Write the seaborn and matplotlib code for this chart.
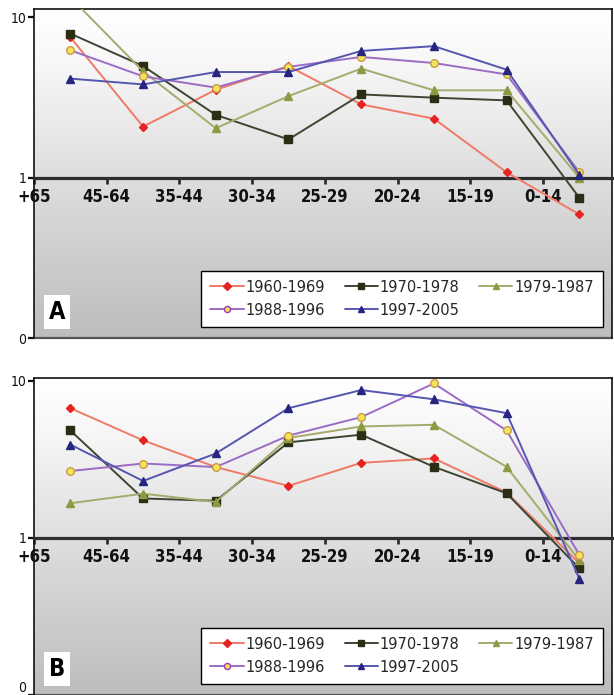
import numpy as np
import pandas as pd
import matplotlib
matplotlib.use("Agg")
import matplotlib.pyplot as plt
import seaborn as sns
from matplotlib.colors import LinearSegmentedColormap
from matplotlib.ticker import NullLocator

# ---------------- data ----------------
age_groups = ["+65", "45-64", "35-44", "30-34", "25-29", "20-24", "15-19", "0-14"]
periods = ["1960-1969", "1970-1978", "1979-1987", "1988-1996", "1997-2005"]

a_1960 = [7.5, 2.08, 3.53, 4.96, 2.86, 2.33, 1.08, 0.59]
a_1970 = [7.9, 4.96, 2.46, 1.73, 3.30, 3.15, 3.03, 0.75]
a_1979 = [13.3, 4.6, 2.03, 3.22, 4.78, 3.50, 3.50, 1.0]
a_1988 = [6.22, 4.28, 3.64, 4.9, 5.65, 5.18, 4.40, 1.08]
a_1997 = [4.14, 3.81, 4.55, 4.55, 6.16, 6.6, 4.71, 1.04]

b_1960 = [6.68, 4.17, 2.82, 2.14, 3.0, 3.2, 1.94, 0.69]
b_1970 = [4.82, 1.78, 1.72, 4.05, 4.53, 2.83, 1.92, 0.64]
b_1979 = [1.66, 1.91, 1.69, 4.32, 5.11, 5.24, 2.83, 0.72]
b_1988 = [2.66, 2.97, 2.82, 4.47, 5.86, 9.6, 4.82, 0.78]
b_1997 = [3.92, 2.30, 3.44, 6.68, 8.71, 7.61, 6.21, 0.55]

y_ticks = [0.1, 1, 10]
y_tick_labels = ["0", "1", "10"]

# ---------------- styles ----------------
line_colors = ["#f07a66", "#3c4632", "#a6aa6c", "#9b6cc6", "#5656b0"]
marker_faces = ["#e42420", "#2b2e14", "#8d9a42", "#f3e45a", "#262680"]
marker_edges = ["#e42420", "#2b2e14", "#8d9a42", "#c99a4a", "#262680"]
legend_edges = ["#e42420", "#2b2e14", "#8d9a42", "#9b3cb0", "#262680"]
marker_shapes = ["D", "s", "^", "o", "^"]
marker_sizes = [4.5, 5.5, 6, 5.5, 6]

sns.set_theme(style="white")
FAM = ["DejaVu Sans"]
plt.rcParams["font.family"] = FAM
plt.rcParams["font.stretch"] = "condensed"
STRETCH = "condensed"


def make_df(series):
    rows = []
    for p, vals in zip(periods, series):
        for i, (g, v) in enumerate(zip(age_groups, vals)):
            rows.append({"period": p, "age": g, "pos": i, "value": v})
    return pd.DataFrame(rows)


df_a = make_df([a_1960, a_1970, a_1979, a_1988, a_1997])
df_b = make_df([b_1960, b_1970, b_1979, b_1988, b_1997])

bg_cmap = LinearSegmentedColormap.from_list(
    "bg", [(0.0, "#bdbdbd"), (0.5, "#dfdfdf"), (0.85, "#f8f8f8"), (1.0, "#ffffff")]
)

fig = plt.figure(figsize=(6.14, 6.95), dpi=100)
W, H = 614.0, 695.0
ax_a = fig.add_axes([34 / W, 357 / H, 578 / W, 328.7 / H])
ax_b = fig.add_axes([34 / W, 0.0, 578 / W, 316.7 / H])


def draw_panel(ax, df, letter, ytop, ax_h_px):
    ax.set_yscale("log")
    grad = np.linspace(0, 1, 256).reshape(-1, 1)
    ax.imshow(grad, extent=[0, 1, 0, 1], transform=ax.transAxes, origin="lower",
              aspect="auto", cmap=bg_cmap, zorder=0, interpolation="bilinear")
    for i, p in enumerate(periods):
        sub = df[df["period"] == p]
        sns.lineplot(data=sub, x="pos", y="value", ax=ax, color=line_colors[i],
                     marker=marker_shapes[i], markersize=marker_sizes[i],
                     markerfacecolor=marker_faces[i], markeredgecolor=marker_edges[i],
                     markeredgewidth=1.0, linewidth=1.4, sort=False,
                     label=p, zorder=3 + i, legend=False)
    n = len(age_groups)
    ax.set_xlim(-0.5, n - 0.55)
    ax.set_ylim(0.1, ytop)
    ax.set_xlabel("")
    ax.set_ylabel("")
    ax.spines["bottom"].set_position(("data", 1))
    ax.spines["bottom"].set_linewidth(2.3)
    ax.spines["bottom"].set_color("#2e2e2e")
    ax.spines["bottom"].set_zorder(2.5)
    for s in ["top", "right", "left"]:
        ax.spines[s].set_visible(True)
        ax.spines[s].set_color("#111111")
        ax.spines[s].set_linewidth(1.2)
    ax.plot([0, 1], [0, 0], transform=ax.transAxes, color="#555555", lw=1.6,
            clip_on=False, zorder=2)
    ax.set_xticks(np.arange(n) - 0.5)
    ax.set_xticklabels(age_groups, fontweight="bold", fontsize=12, family=FAM,
                       fontstretch=STRETCH)
    ax.tick_params(axis="x", direction="out", length=4, width=2, pad=3.5,
                   color="#2e2e2e", bottom=True, labelcolor="#111111")
    ax.set_yticks(y_ticks)
    ax.set_yticklabels(y_tick_labels, fontsize=10, family=FAM, fontstretch=STRETCH)
    ax.yaxis.set_minor_locator(NullLocator())
    ax.tick_params(axis="y", direction="out", length=4, width=1.6, pad=1.5,
                   color="#111111", left=True, labelcolor="#111111")
    ax.grid(False)

    handles, labels = ax.get_legend_handles_labels()
    order = [0, 3, 1, 4, 2]
    leg = ax.legend([handles[k] for k in order], [labels[k] for k in order],
                    ncol=3, loc="lower right",
                    bbox_to_anchor=(1 - 9 / 578, 11 / ax_h_px),
                    prop={"family": FAM, "size": 11.7, "stretch": STRETCH},
                    frameon=True, fancybox=False, framealpha=1,
                    facecolor="white", edgecolor="black", markerscale=0.8,
                    handlelength=2.05, handletextpad=0.12, columnspacing=1.2,
                    labelspacing=0.5, borderpad=0.55, borderaxespad=0)
    leg.get_frame().set_linewidth(1.0)
    leg.set_zorder(20)
    for k, h in zip(order, leg.legend_handles):
        h.set_markeredgecolor(legend_edges[k])
    ax.text(15 / 578, 14 / ax_h_px, letter, transform=ax.transAxes,
            fontsize=17, fontweight="bold", family=FAM, fontstretch=STRETCH,
            color="black", ha="left", va="bottom", zorder=21,
            bbox=dict(boxstyle="square,pad=0.2", facecolor="white", edgecolor="none"))


draw_panel(ax_a, df_a, "A", 11.2, 328.7)
draw_panel(ax_b, df_b, "B", 10.35, 316.7)
# keep the lowest tick label of panel B inside the figure
ax_b.get_yticklabels()[0].set_verticalalignment("bottom")

fig.savefig("out.png", dpi=100)
